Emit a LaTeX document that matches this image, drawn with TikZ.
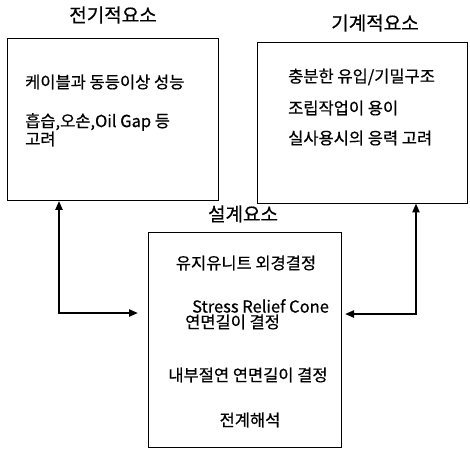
\documentclass[tikz,border=0pt]{standalone}
\usepackage{fontspec}
\newfontfamily\kr[FakeBold=0.6]{Noto Sans CJK KR}
\usepackage{tikz}
\usetikzlibrary{arrows.meta, positioning, calc}

\tikzset{
  box/.style={draw, line width=0.8pt, inner sep=0pt},
  title/.style={font=\kr\fontsize{19}{21}\selectfont},
  item/.style={font=\kr\fontsize{16.5}{18}\selectfont, inner sep=0pt},
  link/.style={{Triangle[length=9pt,width=7pt]}-{Triangle[length=9pt,width=7pt]}, line width=2.2pt}
}

\begin{document}
\begin{tikzpicture}[x=1pt, y=-1pt]
    \useasboundingbox (0,0) rectangle (470,451);
    % boxes
    \node[box, minimum width=211pt, minimum height=162pt] (elec) at (112.5,119.5) {};
    \node[box, minimum width=210pt, minimum height=161pt] (mech) at (362,122.5) {};
    \node[box, minimum width=193pt, minimum height=215pt] (design) at (244.5,339.5) {};
    % titles
    \node[title] (elecT) at (113,15) {전기적요소};
    \node[title] (mechT) at (375,23) {기계적요소};
    \node[title] (designT) at (243,214) {설계요소};
    % texts
    \node[item, anchor=west] (e1) at (25,82) {케이블과 동등이상 성능};
    \node[item, anchor=west] (e2) at (25,122) {흡습,오손,Oil Gap 등};
    \node[item, anchor=west] (e3) at (25,139) {고려};
    \node[item, anchor=west] (m1) at (288,77) {충분한 유입/기밀구조};
    \node[item, anchor=west] (m2) at (288,108) {조립작업이 용이};
    \node[item, anchor=west] (m3) at (288,138) {실사용시의 응력 고려};
    \node[item] (d1) at (246,263) {유지유니트 외경결정};
    \node[item, anchor=west] (d2) at (192,306) {Stress Relief Cone};
    \node[item, anchor=west] (d3) at (185,322) {연면길이 결정};
    \node[item] (d4) at (248,375) {내부절연 연면길이 결정};
    \node[item] (d5) at (250,420) {전계해석};
    % connectors
    \coordinate (turnL) at (59,313);
    \coordinate (turnR) at (416,314);
    \coordinate (tipL) at (138,313);
    \coordinate (tipR) at (345,314);
    \draw[link] (elec.south -| turnL) |- (tipL);
    \draw[link] (mech.south -| turnR) |- (tipR);
\end{tikzpicture}
\end{document}
